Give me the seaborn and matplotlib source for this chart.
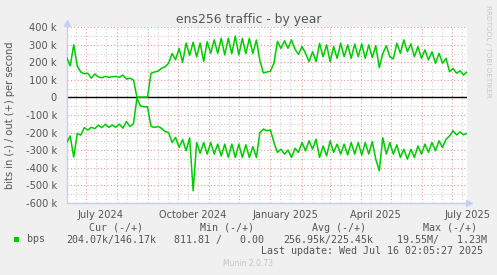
import numpy as np
import pandas as pd
import matplotlib
matplotlib.use("Agg")
import matplotlib.pyplot as plt
import matplotlib.dates as mdates
from matplotlib.ticker import FixedLocator, MultipleLocator, FuncFormatter
from matplotlib.patches import Rectangle
import seaborn as sns

# ---------------- data (k bits/s, one sample every 3.5 days) ----------------
start_date = "2024-06-12"
sample_step = "84h"
out_k = [228, 180, 300, 180, 145, 135, 138, 110, 134, 117,
         112, 120, 115, 118, 120, 115, 128, 105, 110, 100,
         2, 2, 2, 2, 138, 145, 150, 166, 175, 195,
         250, 215, 280, 200, 310, 240, 315, 232, 310, 205,
         318, 252, 328, 252, 337, 242, 337, 250, 350, 242,
         337, 250, 337, 250, 328, 210, 140, 145, 150, 195,
         320, 280, 323, 280, 328, 275, 245, 290, 252, 204,
         261, 204, 309, 232, 300, 204, 290, 223, 309, 232,
         300, 223, 305, 232, 305, 223, 300, 228, 295, 170,
         250, 295, 232, 220, 309, 252, 328, 261, 305, 232,
         290, 223, 271, 214, 261, 195, 252, 195, 223, 147,
         166, 138, 152, 128, 146]
in_k = [-257, -220, -340, -205, -215, -172, -186, -170, -178, -158,
        -172, -153, -170, -157, -170, -152, -175, -137, -165, -150,
        -5, -48, -53, -53, -165, -171, -165, -176, -194, -200,
        -257, -228, -285, -240, -304, -230, -532, -257, -318, -257,
        -323, -257, -323, -266, -333, -266, -342, -266, -342, -266,
        -342, -270, -342, -280, -342, -200, -180, -190, -185, -257,
        -313, -295, -323, -300, -342, -290, -313, -257, -304, -247,
        -295, -238, -342, -276, -333, -247, -313, -266, -323, -266,
        -328, -257, -323, -257, -328, -257, -323, -252, -352, -418,
        -230, -323, -257, -323, -270, -342, -295, -352, -295, -342,
        -276, -323, -266, -313, -257, -304, -247, -285, -238, -219,
        -190, -213, -197, -213, -204]

x_label_dates = ["2024-07-16", "2024-10-16", "2025-01-16", "2025-04-16", "2025-07-16"]
x_labels = ["July 2024", "October 2024", "January 2025", "April 2025", "July 2025"]
y_ticks_k = [-600, -500, -400, -300, -200, -100, 0, 100, 200, 300, 400]

title = "ens256 traffic - by year"
y_label = "bits in (-) / out (+) per second"
legend_headers = ["Cur (-/+)", "Min (-/+)", "Avg (-/+)", "Max (-/+)"]
legend_series = "bps"
legend_values = ["204.07k/146.17k", "811.81 /   0.00", "256.95k/225.45k", "19.55M/   1.23M"]
last_update = "Last update: Wed Jul 16 02:05:27 2025"
footer = "Munin 2.0.73"
side_text = "RRDTOOL / TOBI OETIKER"

# ---------------- styling ----------------
sns.set_theme(style="white")
plt.rcParams["font.family"] = ["DejaVu Sans"]

W, H = 497, 275
GREEN = "#00CC00"
RED_GRID = "#E49A9A"
GRAY_GRID = "#CDCDCD"
AXIS_C = "#C8CDF2"
TXT = "#555555"

dates = pd.date_range(start_date, periods=len(out_k), freq=sample_step)
df = pd.DataFrame({
    "date": list(dates) * 2,
    "value": [v * 1000 for v in out_k] + [v * 1000 for v in in_k],
    "dir": ["out"] * len(out_k) + ["in"] * len(in_k),
})

fig = plt.figure(figsize=(W / 100, H / 100), dpi=100)
fig.patch.set_facecolor("#F0F0F0")

def fx(px):
    return px / W

def fy(py):
    return 1 - py / H

left, right, top, bottom = 66.7, 467.1, 27.3, 202.7
ax = fig.add_axes([fx(left), fy(bottom), (right - left) / W, (bottom - top) / H])
ax.set_facecolor("white")

x0 = pd.Timestamp("2024-06-12")
x1 = pd.Timestamp("2025-07-16")
ax.set_xlim(x0, x1)
ax.set_ylim(-600000, 400000)

# grid
for d in pd.date_range("2024-06-01", "2025-07-31", freq="D"):
    if d < x0 or d > x1:
        continue
    if d.day == 1:
        ax.axvline(d, color=RED_GRID, lw=0.8, ls=(0, (1, 2)), zorder=1)
    elif d.day in (11, 21):
        ax.axvline(d, color=GRAY_GRID, lw=0.8, ls=(0, (1, 2)), zorder=0.5)

ax.set_yticks([v * 1000 for v in y_ticks_k])
ax.yaxis.set_minor_locator(MultipleLocator(50000))
ax.grid(axis="y", which="major", color=RED_GRID, lw=0.8, ls=(0, (1, 2)), zorder=1)
ax.grid(axis="y", which="minor", color=GRAY_GRID, lw=0.8, ls=(0, (1, 2)), zorder=0.5)
ax.set_axisbelow(True)

def yfmt(v, pos):
    k = int(round(v / 1000))
    return "0" if k == 0 else f"{k} k"

ax.yaxis.set_major_formatter(FuncFormatter(yfmt))

ax.xaxis.set_major_locator(FixedLocator(mdates.date2num(pd.to_datetime(x_label_dates))))
ax.set_xticklabels(x_labels)
ax.xaxis.set_minor_locator(FixedLocator([]))

ax.tick_params(axis="both", which="both", length=0, labelsize=7.1, colors=TXT)
ax.tick_params(axis="x", pad=5)
ax.tick_params(axis="y", pad=7)

ax.axhline(0, color="black", lw=1.0, zorder=2)

for name in ["top", "right"]:
    ax.spines[name].set_visible(False)
for name in ["left", "bottom"]:
    ax.spines[name].set_color(AXIS_C)
    ax.spines[name].set_linewidth(1.0)

sns.lineplot(data=df, x="date", y="value", units="dir", estimator=None,
             color=GREEN, lw=1.1, ax=ax, legend=False, zorder=3)
ax.set_xlabel("")
ax.set_ylabel("")

# axis arrows
ax.plot([0], [1.025], marker="^", color=AXIS_C, ms=5, transform=ax.transAxes, clip_on=False)
ax.plot([1.005], [0], marker=">", color=AXIS_C, ms=5, transform=ax.transAxes, clip_on=False)

# texts
fig.text(fx(248.5), fy(19.5), title, ha="center", va="center", fontsize=8.9, color=TXT)
fig.text(fx(10), fy(115), y_label, ha="center", va="center", rotation=90, fontsize=7.1, color=TXT)
fig.text(fx(488), fy(5), side_text, ha="center", va="top", rotation=270, fontsize=5.2, color="#C8C8C8")

mono = "DejaVu Sans Mono"
hdr_x = [89, 200, 312, 423]
for hx, h in zip(hdr_x, legend_headers):
    fig.text(fx(hx), fy(228), h, ha="left", va="center", fontsize=7.2, family=mono, color=TXT)
fig.patches.append(Rectangle((fx(14), fy(242.3)), 5.3 / W, 5.6 / H, transform=fig.transFigure,
                             facecolor=GREEN, edgecolor="none"))
fig.text(fx(26.7), fy(239.5), legend_series, ha="left", va="center", fontsize=7.2, family=mono, color=TXT)
val_x = [66, 174, 283.3, 396.7]
for vx, v in zip(val_x, legend_values):
    fig.text(fx(vx), fy(239.5), v, ha="left", va="center", fontsize=7.2, family=mono, color=TXT)
fig.text(fx(482.7), fy(251), last_update, ha="right", va="center", fontsize=7.2, family=mono, color=TXT)
fig.text(fx(248), fy(264), footer, ha="center", va="center", fontsize=5.5, color="#C4C4C4")

fig.savefig("out.png", dpi=100, facecolor=fig.get_facecolor())
